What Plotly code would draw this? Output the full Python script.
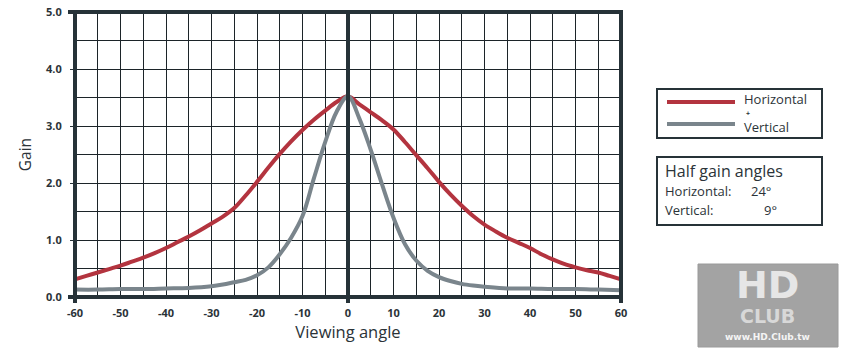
import plotly.graph_objects as go

# ---- data ----
h_angle = [-60, -57.5, -55, -52.5, -50, -47.5, -45, -42.5, -40, -37.5, -35, -32.5, -30, -27.5, -25, -22.5,
           -20, -17.5, -15, -12.5, -10, -7.5, -5, -2.5, 0,
           2.5, 5, 7.5, 10, 12.5, 15, 17.5, 20, 22.5, 25, 27.5, 30, 32.5, 35, 37.5, 40, 42.5, 45, 47.5,
           50, 52.5, 55, 57.5, 60]
h_gain = [0.31, 0.37, 0.43, 0.49, 0.55, 0.62, 0.69, 0.77, 0.86, 0.96, 1.06, 1.17, 1.29, 1.41, 1.56, 1.78,
          2.02, 2.27, 2.51, 2.73, 2.93, 3.11, 3.27, 3.42, 3.52,
          3.38, 3.24, 3.10, 2.94, 2.72, 2.49, 2.26, 2.02, 1.80, 1.60, 1.42, 1.27, 1.15, 1.04, 0.95, 0.86, 0.75,
          0.66, 0.58, 0.52, 0.47, 0.43, 0.37, 0.31]

v_angle = [-60, -55, -50, -45, -40, -35, -30, -27.5, -25, -22.5, -20, -17.5, -15, -12.5, -10, -7.5, -5, -2.5, 0,
           2.5, 5, 7.5, 10, 12.5, 15, 17.5, 20, 22.5, 25, 27.5, 30, 35, 40, 45, 50, 55, 60]
v_gain = [0.13, 0.13, 0.14, 0.14, 0.15, 0.16, 0.19, 0.22, 0.26, 0.30, 0.38, 0.52, 0.75, 1.04, 1.42, 2.08, 2.72, 3.25, 3.52,
          3.13, 2.58, 1.97, 1.39, 0.93, 0.64, 0.46, 0.35, 0.28, 0.23, 0.20, 0.18, 0.15, 0.15, 0.14, 0.14, 0.13, 0.12]

x_ticks = [-60, -50, -40, -30, -20, -10, 0, 10, 20, 30, 40, 50, 60]
x_ticktext = ["-60", "-50", "-40", "-30", "-20", "-10", "0", "10", "20", "30", "40", "50", "60"]
y_ticks = [0, 1, 2, 3, 4, 5]
y_ticktext = ["0.0", "1.0", "2.0", "3.0", "4.0", "5.0"]

RED = "#b3343f"
GRAY = "#7a858c"
DARK = "#263238"
TXT = "#2b3338"
FONT = "Open Sans"

W, H = 844, 352
L, R, T, B = 75, 621, 12, 297


def px(x):
    return (x - L) / (R - L)


def py(y):
    return (B - y) / (B - T)


fig = go.Figure()
fig.add_trace(go.Scatter(x=h_angle, y=h_gain, mode="lines", name="Horizontal",
                         line=dict(color=RED, width=4, shape="spline", smoothing=1.0)))
fig.add_trace(go.Scatter(x=v_angle, y=v_gain, mode="lines", name="Vertical",
                         line=dict(color=GRAY, width=4, shape="spline", smoothing=1.0)))

GC = "#1c2429"
fig.update_xaxes(range=[-60, 60], tickvals=x_ticks, ticktext=x_ticktext, automargin=False,
                 showgrid=True, gridcolor=GC, gridwidth=1,
                 minor=dict(dtick=5, tick0=0, showgrid=True, gridcolor=GC, gridwidth=1),
                 zeroline=False, showline=False, ticks="", ticklabelstandoff=8,
                 tickfont=dict(family=FONT, size=11, color=TXT, weight="bold"),
                 title=dict(text="Viewing angle", font=dict(family=FONT, size=16.5, color=TXT), standoff=3))
fig.update_yaxes(range=[0, 5], tickvals=y_ticks, ticktext=y_ticktext, automargin=False,
                 showgrid=True, gridcolor=GC, gridwidth=1,
                 minor=dict(dtick=0.5, tick0=0, showgrid=True, gridcolor=GC, gridwidth=1),
                 zeroline=False, showline=False, ticks="outside", ticklen=4, tickcolor=DARK,
                 ticklabelstandoff=6,
                 tickfont=dict(family=FONT, size=11, color=TXT, weight="bold"),
                 title=dict(text="Gain", font=dict(family=FONT, size=15.5, color=TXT), standoff=10))

shapes = []
lw = 4
# frame lines
shapes.append(dict(type="line", xref="paper", yref="paper", x0=px(68), x1=px(623), y0=1, y1=1,
                   line=dict(color=DARK, width=lw)))
shapes.append(dict(type="line", xref="paper", yref="paper", x0=px(68), x1=px(623), y0=0, y1=0,
                   line=dict(color=DARK, width=lw)))
shapes.append(dict(type="line", xref="paper", yref="paper", x0=0, x1=0, y0=py(303), y1=py(10),
                   line=dict(color=DARK, width=lw)))
shapes.append(dict(type="line", xref="paper", yref="paper", x0=1, x1=1, y0=py(303), y1=py(10),
                   line=dict(color=DARK, width=lw)))
shapes.append(dict(type="line", xref="x", yref="paper", x0=0, x1=0, y0=py(303), y1=py(10),
                   line=dict(color=DARK, width=lw)))

# legend box
shapes.append(dict(type="rect", xref="paper", yref="paper", x0=px(657), x1=px(822), y0=py(138), y1=py(89),
                   line=dict(color=DARK, width=2), fillcolor="white"))
shapes.append(dict(type="line", xref="paper", yref="paper", x0=px(667), x1=px(735), y0=py(102), y1=py(102),
                   line=dict(color=RED, width=4)))
shapes.append(dict(type="line", xref="paper", yref="paper", x0=px(667), x1=px(735), y0=py(124), y1=py(124),
                   line=dict(color=GRAY, width=4)))
# half gain box
shapes.append(dict(type="rect", xref="paper", yref="paper", x0=px(657), x1=px(822), y0=py(225), y1=py(157),
                   line=dict(color=DARK, width=2), fillcolor="white"))
# watermark logo
shapes.append(dict(type="rect", xref="paper", yref="paper", x0=px(698), x1=px(838), y0=py(347), y1=py(264),
                   line=dict(color="#9a9a9a", width=1), fillcolor="#a3a3a3"))

annotations = []


def ann(text, x, y, size, xanchor="left", color=TXT, weight=None, family=FONT):
    f = dict(family=family, size=size, color=color)
    if weight:
        f["weight"] = weight
    annotations.append(dict(text=text, xref="paper", yref="paper", x=px(x), y=py(y), xanchor=xanchor,
                            yanchor="middle", showarrow=False, borderpad=0, font=f))


ann("Horizontal", 743, 99.5, 13)
ann("+", 745, 113, 7, weight=700)
ann("Vertical", 743, 126.5, 13)
ann("Half gain angles", 664, 171, 16)
ann("Horizontal:", 664, 191, 13)
ann("24°", 750, 191, 13)
ann("Vertical:", 664, 210, 13)
ann("9°", 763, 210, 13)
# logo text
ann("HD", 767, 285, 38, xanchor="center", color="#e6e6e6", weight=700, family="DejaVu Sans")
ann("CLUB", 767, 316, 19, xanchor="center", color="#d8d8d8", weight=700, family="DejaVu Sans")
ann("www.HD.Club.tw", 767, 337, 9, xanchor="center", color="#f4f4f4", weight=700, family="DejaVu Sans")

fig.update_layout(width=W, height=H, margin=dict(l=L, r=W - R, t=T, b=H - B),
                  plot_bgcolor="white", paper_bgcolor="white", showlegend=False,
                  shapes=shapes, annotations=annotations)

fig.write_html("out.html")
